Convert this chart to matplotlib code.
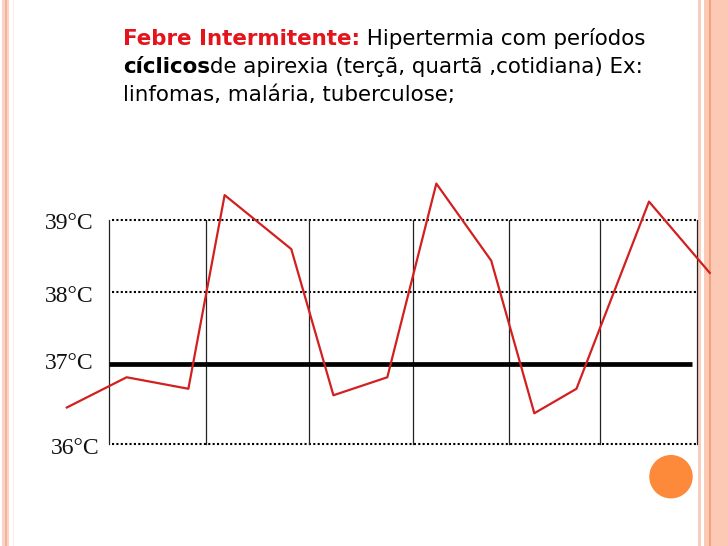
import matplotlib
matplotlib.use("Agg")
import matplotlib.pyplot as plt
from matplotlib.patches import Rectangle, Ellipse

# ---- data ----
temp_levels = [39, 38, 37]           # reference temperature lines
base_level = 35.89                   # bottom dotted line (labelled 36°C)
tick_labels = ["39°C", "38°C", "37°C", "36°C"]
day_lines = [0, 0.99, 2.04, 3.10, 4.08, 5.01, 6.0]
fever_x = [-0.43, 0.18, 0.81, 1.18, 1.86, 2.29, 2.84, 3.34, 3.90, 4.34, 4.77, 5.51, 6.13]
fever_t = [36.40, 36.82, 36.66, 39.35, 38.60, 36.57, 36.82, 39.51, 38.44, 36.32, 36.66, 39.26, 38.27]

W, H = 728, 546
fig = plt.figure(figsize=(W / 100, H / 100), dpi=100)
fig.patch.set_facecolor("white")
ax = fig.add_axes([0, 0, 1, 1])
ax.set_xlim(-109 / 98, (W - 109) / 98)
ax.set_ylim(37 - (H - 364.3) / 72, 37 + 364.3 / 72)
ax.axis("off")
ax.patch.set_alpha(0)

# slide border stripes (figure fraction), drawn behind the axes
def vstripe(x0, x1, color):
    fig.patches.append(Rectangle((x0 / W, 0), (x1 - x0) / W, 1, transform=fig.transFigure,
                                 facecolor=color, edgecolor="none", zorder=-5))
vstripe(2, 9, "#fad3c4")
vstripe(5, 6.5, "#f4b49c")
vstripe(12.5, 14, "#fdebe3")
vstripe(697.5, 700.5, "#f9cdbd")
vstripe(704, 728, "#fcc9b5")
vstripe(709, 711, "#f0a27f")

# grid lines
x_left, x_right = day_lines[0], day_lines[-1]
for lv in temp_levels[:2] + [base_level]:
    ax.plot([0.03, x_right], [lv, lv], color="black", lw=1.5, ls=(0, (1, 1.1)), zorder=2)
for dx in day_lines:
    ax.plot([dx, dx], [base_level, temp_levels[0]], color="#222222", lw=0.9, zorder=2)
ax.plot([x_left, 5.95], [37, 37], color="black", lw=3.4, solid_capstyle="butt", zorder=3)

# fever curve
ax.plot(fever_x, fever_t, color="#d21f1f", lw=1.6, zorder=4)

# tick labels (serif)
label_y = temp_levels + [base_level]
offsets = [-9, -9.5, -4.5, -10]
xs = [93, 93, 93, 100]
for lab, ty, off, xp in zip(tick_labels, label_y, offsets, xs):
    ax.annotate(lab, xy=((xp - 109) / 98, ty), xytext=(0, off * 0.72), textcoords="offset points",
                ha="right", va="baseline", fontsize=17, family="Liberation Serif", color="#111111")

# orange dot
fig.patches.append(Ellipse((671 / W, 1 - 476.7 / H), 43.5 / W, 43.5 / H, transform=fig.transFigure,
                           facecolor="#fd8a3a", edgecolor="none", zorder=5))

# heading text with mixed styles
fs = 15.4
fam = "DejaVu Sans"
renderer = fig.canvas.get_renderer()
lines = [
    [("Febre Intermitente:", "bold", "#e3141c"), (" Hipertermia com períodos", "normal", "black")],
    [("cíclicos", "bold", "black"), ("de apirexia (terçã, quartã ,cotidiana) Ex:", "normal", "black")],
    [("linfomas, malária, tuberculose;", "normal", "black")],
]
baselines = [45, 73, 101]
for parts, by in zip(lines, baselines):
    x = 123
    for s, wgt, col in parts:
        t = fig.text(x / W, 1 - by / H, s, fontsize=fs, fontweight=wgt, color=col,
                     family=fam, ha="left", va="baseline")
        bb = t.get_window_extent(renderer)
        x += bb.width

fig.savefig("out.png", dpi=100)
